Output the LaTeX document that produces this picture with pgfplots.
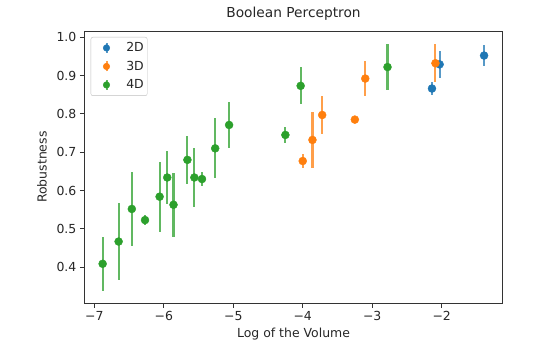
\documentclass[border=0pt]{standalone}
\usepackage{pgfplots}
\pgfplotsset{compat=1.18}
\usepackage{fontspec}
\setmainfont{DejaVu Sans}
\definecolor{c2d}{HTML}{1F77B4}
\definecolor{c3d}{HTML}{FF7F0E}
\definecolor{c4d}{HTML}{2CA02C}
\begin{document}
\begin{tikzpicture}
\useasboundingbox (-84.3bp,-52.7bp) rectangle (451.7bp,303.3bp);
\begin{axis}[at={(0,0)}, anchor=south west, scale only axis,
  width=418.4bp, height=272.3bp,
  xmin=-7.144, xmax=-1.122, ymin=0.306, ymax=1.016,
  xtick={-7,-6,-5,-4,-3,-2}, xticklabels={−7,−6,−5,−4,−3,−2},
  ytick={0.4,0.5,0.6,0.7,0.8,0.9,1.0}, yticklabels={0.4,0.5,0.6,0.7,0.8,0.9,1.0},
  tick align=outside, tick pos=left, major tick length=4.4bp,
  tick style={black!80, line width=1bp},
  axis line style={black!80, line width=1bp},
  ticklabel style={font=\fontsize{12.5}{15}\selectfont, text=black!85},
  label style={font=\fontsize{12.5}{15}\selectfont, text=black!85},
  title style={font=\fontsize{13.8}{16}\selectfont, text=black!85, at={(0.5,1)}, anchor=south, yshift=1.5bp},
  title={Boolean Perceptron},
  xlabel={Log of the Volume}, ylabel={Robustness},
  xlabel style={at={(0.5,0)}, anchor=north, yshift=-21bp},
  ylabel style={at={(0,0.5)}, anchor=south, yshift=34bp},
  legend style={at={(0.0153,0.978)}, anchor=north west, draw=black!25, rounded corners=2bp,
    font=\fontsize{12.5}{15}\selectfont, text=black!85, inner xsep=1.4bp, inner ysep=1.5bp,
    row sep=0bp},
  legend cell align=left,
]
\addplot[only marks, mark=*, color=c2d, mark size=4bp,
  legend image code/.code={\path[draw=none,fill=none] (0bp,-9.25bp) rectangle (32bp,9.25bp); \draw[c2d!75!white, line width=2bp] (14.2bp,-5bp) -- (14.2bp,5bp); \fill[c2d] (14.2bp,0bp) circle (3.3bp);},
  error bars/.cd, y dir=both, y explicit, error mark=none,
  error bar style={line width=2.1bp, c2d!75!white}]
  table[x=x, y=y, y error=e] {
x y e
-2.14 0.866 0.017
-2.03 0.929 0.035
-1.39 0.952 0.027
};
\addlegendentry{2D}
\addplot[only marks, mark=*, color=c3d, mark size=4bp,
  legend image code/.code={\path[draw=none,fill=none] (0bp,-9.25bp) rectangle (32bp,9.25bp); \draw[c3d!75!white, line width=2bp] (14.2bp,-5bp) -- (14.2bp,5bp); \fill[c3d] (14.2bp,0bp) circle (3.3bp);},
  error bars/.cd, y dir=both, y explicit, error mark=none,
  error bar style={line width=2.1bp, c3d!75!white}]
  table[x=x, y=y, y error=e] {
x y e
-4.00 0.677 0.017
-3.86 0.732 0.073
-3.72 0.797 0.049
-3.25 0.785 0.008
-3.10 0.892 0.046
-2.09 0.932 0.050
};
\addlegendentry{3D}
\addplot[only marks, mark=*, color=c4d, mark size=4bp,
  legend image code/.code={\path[draw=none,fill=none] (0bp,-9.25bp) rectangle (32bp,9.25bp); \draw[c4d!75!white, line width=2bp] (14.2bp,-5bp) -- (14.2bp,5bp); \fill[c4d] (14.2bp,0bp) circle (3.3bp);},
  error bars/.cd, y dir=both, y explicit, error mark=none,
  error bar style={line width=2.1bp, c4d!75!white}]
  table[x=x, y=y, y error=e] {
x y e
-6.88 0.409 0.070
-6.65 0.467 0.100
-6.46 0.552 0.097
-6.27 0.523 0.013
-6.06 0.584 0.091
-5.95 0.634 0.069
-5.86 0.563 0.083
-5.66 0.680 0.063
-5.56 0.634 0.078
-5.45 0.630 0.018
-5.26 0.710 0.078
-5.06 0.771 0.061
-4.25 0.745 0.022
-4.03 0.873 0.048
-2.78 0.922 0.060
};
\addlegendentry{4D}
\end{axis}
\end{tikzpicture}
\end{document}
